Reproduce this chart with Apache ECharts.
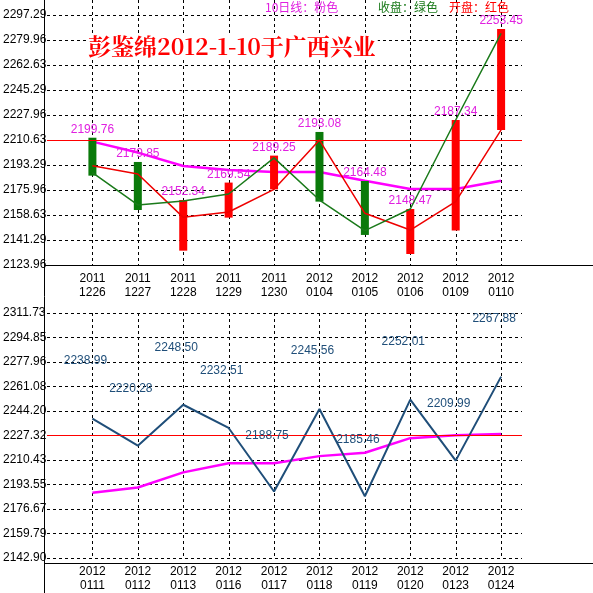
<!DOCTYPE html>
<html><head><meta charset="utf-8">
<script src="https://cdn.jsdelivr.net/npm/echarts@6/dist/echarts.min.js"></script>
<style>html,body{margin:0;padding:0;background:#fff}#c{width:593px;height:593px}</style>
</head><body><div id="c"></div>
<script>
const topCats = [['2011','1226'],['2011','1227'],['2011','1228'],['2011','1229'],['2011','1230'],['2012','0104'],['2012','0105'],['2012','0106'],['2012','0109'],['2012','0110']];
const botCats = [['2012','0111'],['2012','0112'],['2012','0113'],['2012','0116'],['2012','0117'],['2012','0118'],['2012','0119'],['2012','0120'],['2012','0123'],['2012','0124']];
const topTicks = ['2123.96','2141.29','2158.63','2175.96','2193.29','2210.63','2227.96','2245.29','2262.63','2279.96','2297.29'];
const botTicks = ['2142.90','2159.79','2176.67','2193.55','2210.43','2227.32','2244.20','2261.08','2277.96','2294.85','2311.73'];
const barHigh = [2212.2,2195.4,2169.0,2181.1,2199.8,2216.2,2182.2,2162.8,2224.5,2287.6];
const barLow  = [2185.9,2162.1,2133.9,2156.8,2176.4,2167.9,2144.8,2131.6,2147.8,2217.6];
const barUp   = [0,0,1,1,1,0,0,1,1,1]; // 1 = red, 0 = green
const barLabels = ['2199.76','2179.85','2152.34','2169.54','2189.25','2193.08','2164.48','2148.47','2187.34','2253.45'];
const openLine  = [2192.8,2187.1,2157.0,2160.7,2176.4,2210.6,2159.8,2148.2,2167.9,2217.6];
const closeLine = [2188.0,2165.6,2168.3,2173.2,2198.2,2169.0,2147.8,2162.8,2224.5,2284.6];
const ma10Top   = [2209.5,2201.9,2192.6,2189.8,2188.4,2188.4,2182.4,2176.7,2176.7,2182.4];
const blueLine  = [2238.99,2220.28,2248.50,2232.51,2188.75,2245.56,2185.46,2252.01,2209.99,2267.88];
const blueLabelAt = [2278.6,2259.9,2288.1,2271.9,2227.3,2285.6,2224.6,2292.1,2249.2,2307.7];
const ma10Bot   = [2187.9,2191.5,2201.9,2208.2,2208.2,2213.1,2215.4,2225.5,2227.5,2228.4];
const topRef = 2210.63, botRef = 2227.32;

const chart = echarts.init(document.getElementById('c'));
const F = 'Liberation Sans, Arial, sans-serif';
function xAx(idx, cats){
  return {type:'value', gridIndex:idx, min:-1, max:9.46, interval:1,
    axisLine:{show:false}, axisTick:{show:false}, splitLine:{show:false},
    axisLabel:{color:'#000', fontFamily:F, fontSize:12, lineHeight:14, margin:7,
      showMaxLabel:false,
      formatter:v=>{const i=Math.round(v); return (i>=0&&i<cats.length&&Math.abs(v-i)<1e-6)? cats[i][0]+'\n'+cats[i][1] : '';}}};
}
function yAx(idx, ticks){
  const mn=+ticks[0], mx=+ticks[ticks.length-1];
  return {type:'value', gridIndex:idx, min:mn, max:mx, interval:(mx-mn)/10,
    axisLine:{show:false}, axisTick:{show:false},
    splitLine:{show:true, lineStyle:{color:'#000', type:[3,3], width:1}},
    axisLabel:{color:'#000', fontFamily:F, fontSize:12, align:'left', margin:44,
      formatter:(v)=>{const i=Math.round((v-mn)/((mx-mn)/10)); return ticks[i]||'';}}};
}
function vLines(g, ticks, extendTop){
  return {type:'custom', xAxisIndex:g, yAxisIndex:g, z:1, clip:false, silent:true,
    data:topCats.map((_,i)=>[i]),
    renderItem:(p,api)=>{
      const a=api.coord([api.value(0), +ticks[ticks.length-1]]), b=api.coord([api.value(0), +ticks[0]]);
      const x=Math.round(a[0])+0.5;
      return {type:'line',shape:{x1:x,y1:a[1]-extendTop,x2:x,y2:b[1]},style:{stroke:'#000',lineWidth:1,lineDash:[3,3]}};
    }};
}
const idx = topCats.map((_,i)=>i);
chart.setOption({
  animation:false,
  grid:[{left:44,right:71,top:15,height:250},{left:44,right:71,top:313,height:250}],
  xAxis:[xAx(0,topCats), xAx(1,botCats)],
  yAxis:[yAx(0,topTicks), yAx(1,botTicks)],
  series:[
    vLines(0, topTicks, 15), vLines(1, botTicks, 0),
    {type:'line', xAxisIndex:0,yAxisIndex:0, data:idx.map(i=>[i,ma10Top[i]]), symbol:'none', lineStyle:{color:'#ff00ff',width:2.5}, z:3,
      markLine:{silent:true,symbol:'none',label:{show:false},lineStyle:{color:'#ff0000',type:'solid',width:1},data:[{yAxis:topRef}]}},
    {type:'custom', xAxisIndex:0,yAxisIndex:0, z:4, clip:false, data:idx.map(i=>[i,barHigh[i],barLow[i],barUp[i]]),
      renderItem:(p,api)=>{
        const x=api.value(0), hi=api.coord([x,api.value(1)]), lo=api.coord([x,api.value(2)]);
        const i=p.dataIndex;
        return {type:'group',children:[
          {type:'rect',shape:{x:hi[0]-4,y:hi[1],width:8,height:lo[1]-hi[1]},style:{fill:api.value(3)?'#ff0000':'#0a7a0a'}},
          {type:'text',style:{text:barLabels[i],x:hi[0],y:hi[1]-2,align:'center',verticalAlign:'bottom',fill:'#e020e0',font:'12px '+F}}
        ]};
      }},
    {type:'line', xAxisIndex:0,yAxisIndex:0, data:idx.map(i=>[i,openLine[i]]), symbol:'none', lineStyle:{color:'#ee0000',width:1.5}, z:5},
    {type:'line', xAxisIndex:0,yAxisIndex:0, data:idx.map(i=>[i,closeLine[i]]), symbol:'none', lineStyle:{color:'#1a7a1a',width:1.5}, z:5},
    {type:'line', xAxisIndex:1,yAxisIndex:1, data:idx.map(i=>[i,ma10Bot[i]]), symbol:'none', lineStyle:{color:'#ff00ff',width:2.5}, z:3,
      markLine:{silent:true,symbol:'none',label:{show:false},lineStyle:{color:'#ff0000',type:'solid',width:1},data:[{yAxis:botRef}]}},
    {type:'line', xAxisIndex:1,yAxisIndex:1, data:idx.map(i=>[i,blueLine[i]]), symbol:'none', lineStyle:{color:'#1f4e79',width:2}, z:4},
    {type:'custom', xAxisIndex:1,yAxisIndex:1, z:6, clip:false, data:idx.map(i=>[i,blueLabelAt[i],blueLine[i]]),
      renderItem:(p,api)=>{
        const c=api.coord([api.value(0),api.value(1)]);
        return {type:'text',style:{text:api.value(2).toFixed(2),x:c[0]-7,y:c[1],align:'center',verticalAlign:'middle',fill:'#1f4e79',font:'12px '+F}};
      }}
  ],
  graphic:[
    {type:'line',shape:{x1:44.5,y1:0,x2:44.5,y2:593},style:{stroke:'#000',lineWidth:1},z:10},
    {type:'line',shape:{x1:44,y1:265.5,x2:593,y2:265.5},style:{stroke:'#000',lineWidth:1},z:10},
    {type:'line',shape:{x1:44,y1:563.5,x2:593,y2:563.5},style:{stroke:'#000',lineWidth:1},z:10},
    {type:'text',left:86,top:33,z:10,style:{text:'彭鉴绵2012-1-10于广西兴业',fill:'#ff0000',font:'bold 23px "Noto Serif CJK SC","Noto Sans CJK SC",serif',backgroundColor:'#fff',padding:[2,2]}},
    {type:'text',left:265,top:1,z:10,style:{text:'10日线：粉色',fill:'#e020e0',font:'12px "Noto Sans CJK SC",sans-serif'}},
    {type:'text',left:378,top:1,z:10,style:{text:'收盘：绿色',fill:'#1a7a1a',font:'12px "Noto Sans CJK SC",sans-serif'}},
    {type:'text',left:449,top:1,z:10,style:{text:'开盘：红色',fill:'#ff0000',font:'12px "Noto Sans CJK SC",sans-serif'}}
  ]
});
</script></body></html>
